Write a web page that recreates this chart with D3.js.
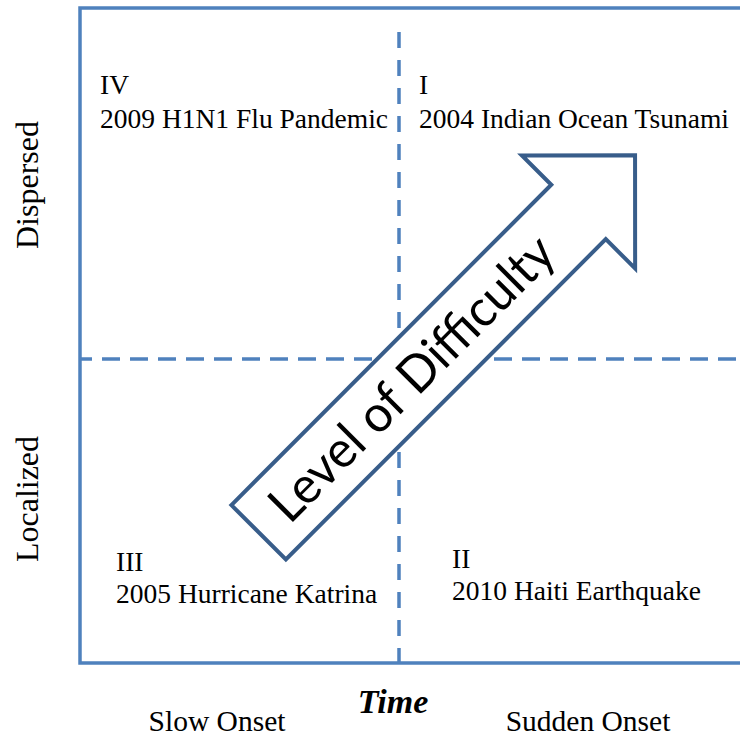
<!DOCTYPE html>
<meta charset="utf-8">
<script src="https://d3js.org/d3.v7.min.js"></script>
<style>
  body { margin: 0; background: #fff; }
  text { font-family: "Liberation Serif", "Times New Roman", serif; fill: #000; }
</style>
<body>
<div id="my_dataviz"></div>
<script>
// quadrant contents
var quadrantNumerals = ["I", "II", "III", "IV"];
var quadrantEvents = ["2004 Indian Ocean Tsunami", "2010 Haiti Earthquake",
                      "2005 Hurricane Katrina", "2009 H1N1 Flu Pandemic"];
var quadrantOnset = [1, 1, 0, 0];   // 0 = slow, 1 = sudden
var quadrantSpread = [1, 0, 0, 1];  // 0 = localized, 1 = dispersed

var onsetLabels = ["Slow Onset", "Sudden Onset"];
var spreadLabels = ["Localized", "Dispersed"];
var xTitle = "Time";

// arrow: from / to in the onset-spread plane (-1..1 on both)
var arrowLabel = "Level of Difficulty";
var arrowFrom = [-0.44, -0.57];
var arrowTo = [0.74, 0.67];

var W = 740, H = 736;

var svg = d3.select("#my_dataviz")
  .append("svg")
  .attr("width", W)
  .attr("height", H);

var x = d3.scaleLinear().domain([-1, 1]).range([80, 718]);
var y = d3.scaleLinear().domain([-1, 1]).range([663, 55]);

var boxColor = "#4f81bd",
    arrowColor = "#385d8a";

// dashed dividers
svg.append("line")
  .attr("x1", x(0)).attr("x2", x(0))
  .attr("y1", 32).attr("y2", y(-1))
  .attr("stroke", boxColor).attr("stroke-width", 3.5)
  .attr("stroke-dasharray", "16,12");

svg.append("line")
  .attr("x1", x(-1)).attr("x2", W + 10)
  .attr("y1", y(0)).attr("y2", y(0))
  .attr("stroke", boxColor).attr("stroke-width", 3.5)
  .attr("stroke-dasharray", "18,10")
  .attr("stroke-dashoffset", 6);

// frame (right side runs off the page)
svg.append("path")
  .attr("d", "M" + (W + 10) + ",8 H" + x(-1) + " V" + y(-1) + " H" + (W + 10))
  .attr("fill", "none")
  .attr("stroke", boxColor)
  .attr("stroke-width", 3.5);

// quadrant labels
var labelPos = {
  "I":   [419, 94, 127.7],
  "II":  [452, 568, 600],
  "III": [116, 571, 603],
  "IV":  [100, 94, 127.7]
};
quadrantNumerals.forEach(function(n, i) {
  var p = labelPos[n];
  svg.append("text").attr("x", p[0]).attr("y", p[1])
    .style("font-size", "27.5px").text(n);
  svg.append("text").attr("x", p[0]).attr("y", p[2])
    .style("font-size", "27.5px").text(quadrantEvents[i]);
});

// axis labels
var onsetX = [217, 588];
onsetLabels.forEach(function(l, i) {
  svg.append("text")
    .attr("x", onsetX[i]).attr("y", 731)
    .attr("text-anchor", "middle")
    .style("font-size", "29.5px")
    .text(l);
});

svg.append("text")
  .attr("x", 393).attr("y", 713)
  .attr("text-anchor", "middle")
  .style("font-size", "34px")
  .style("font-weight", "bold")
  .style("font-style", "italic")
  .text(xTitle);

var spreadY = [499, 185];
spreadLabels.forEach(function(l, i) {
  svg.append("text")
    .attr("transform", "translate(38," + spreadY[i] + ") rotate(-90)")
    .attr("text-anchor", "middle")
    .style("font-size", "32px")
    .text(l);
});

// difficulty arrow
var t0 = [x(arrowFrom[0]), y(arrowFrom[1])],
    t1 = [x(arrowTo[0]), y(arrowTo[1])];
var len = Math.hypot(t1[0] - t0[0], t1[1] - t0[1]);
var ang = Math.atan2(t1[1] - t0[1], t1[0] - t0[0]) * 180 / Math.PI;
var sw = 38.5, hl = 80, hw = 80;

var ag = svg.append("g")
  .attr("transform", "translate(" + t0[0] + "," + t0[1] + ") rotate(" + ang + ")");

ag.append("path")
  .attr("d", d3.line()([
    [0, -sw], [len - hl, -sw], [len - hl, -hw], [len, 0],
    [len - hl, hw], [len - hl, sw], [0, sw]
  ]) + "Z")
  .attr("fill", "#fff")
  .attr("stroke", arrowColor)
  .attr("stroke-width", 4)
  .attr("stroke-linejoin", "miter");

ag.append("text")
  .attr("x", 217).attr("y", 17)
  .attr("text-anchor", "middle")
  .attr("textLength", 380)
  .attr("lengthAdjust", "spacingAndGlyphs")
  .style("font-family", "Lato, 'Open Sans', sans-serif")
  .style("font-size", "51px")
  .text(arrowLabel);
</script>
</body>
